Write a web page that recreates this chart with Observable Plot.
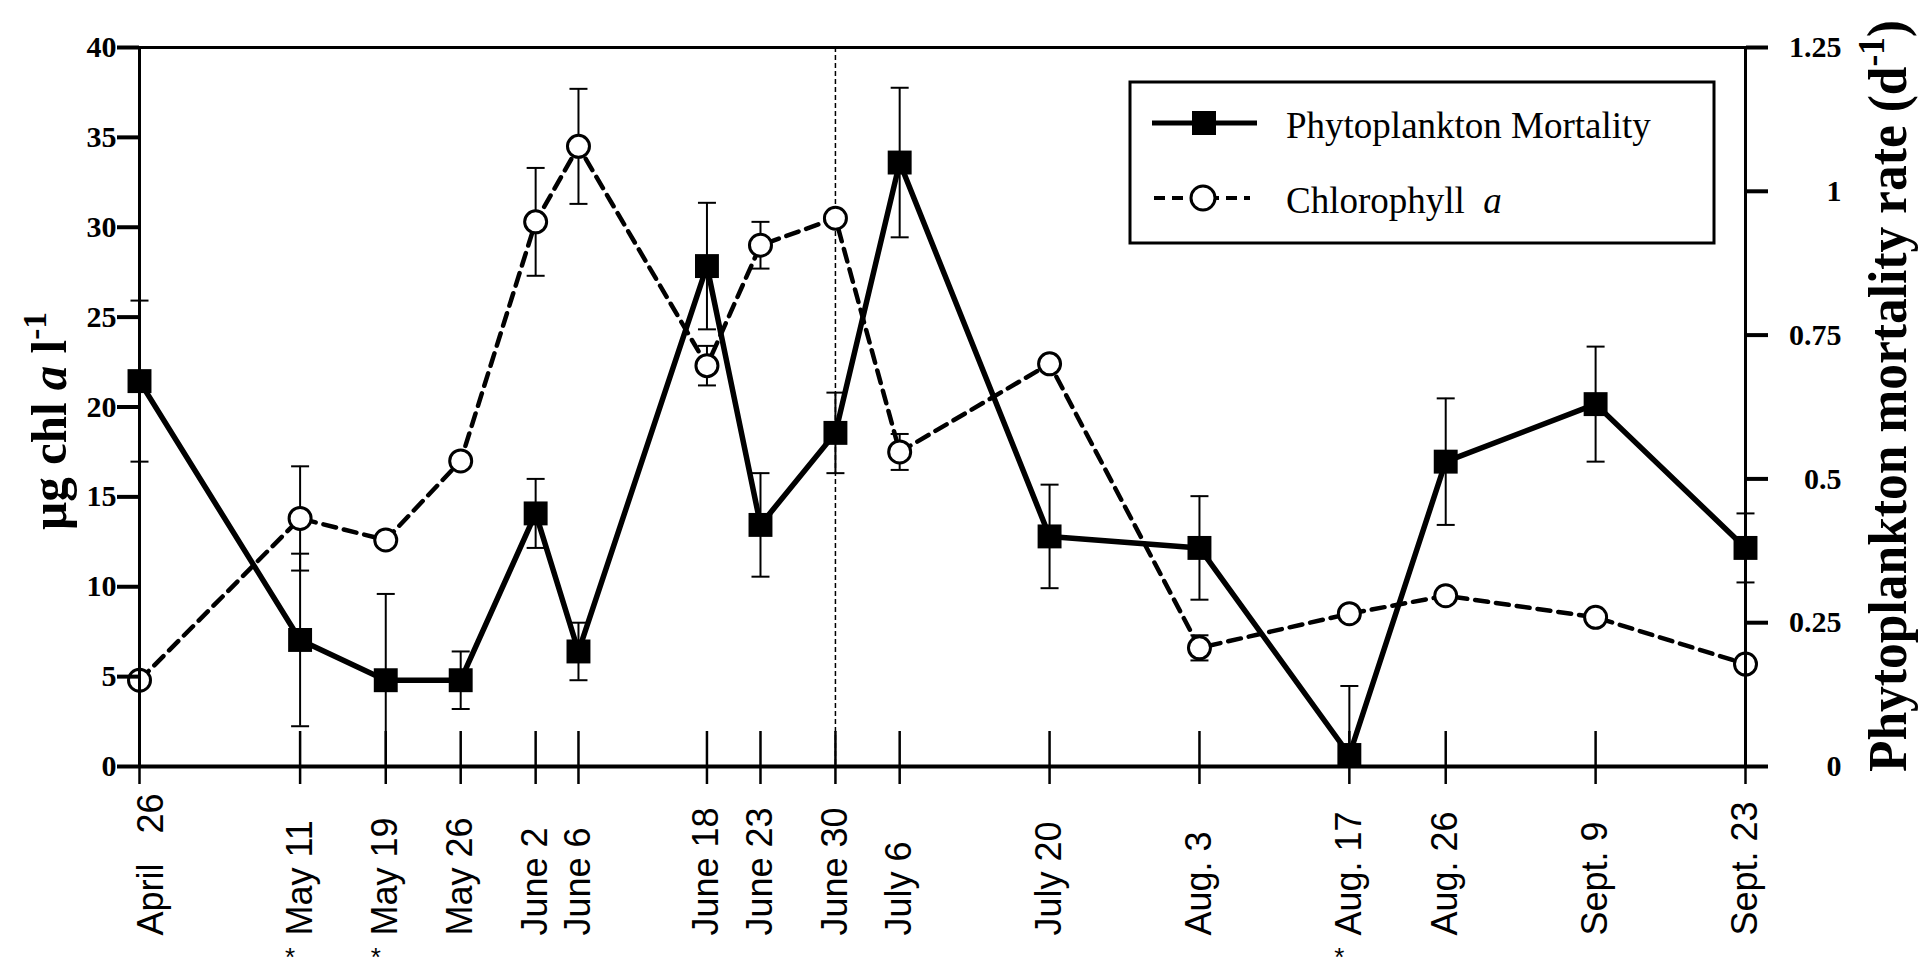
<!DOCTYPE html>
<html>
<head>
<meta charset="utf-8">
<script src="https://cdn.jsdelivr.net/npm/d3@7"></script>
<script src="https://cdn.jsdelivr.net/npm/@observablehq/plot@0.6"></script>
<style>
  html, body { margin: 0; padding: 0; background: #fff; }
  #chart { width: 1921px; height: 978px; }
</style>
</head>
<body>
<div id="chart"></div>
<script>
// Sampling dates (month-day) and the labels printed under the time axis
const sampleDates = ["04-26","05-11","05-19","05-26","06-02","06-06","06-18","06-23","06-30","07-06","07-20","08-03","08-17","08-26","09-09","09-23"];
const dateLabels = ["April\u00a0\u00a0\u00a026","May 11","May 19","May 26","June 2","June 6","June 18","June 23","June 30","July 6","July 20","Aug. 3","Aug. 17","Aug. 26","Sept. 9","Sept. 23"];
const starredDates = ["05-11","05-19","08-17"];
const dividerDate = "06-30";

// Phytoplankton mortality rate (d-1) with its error
const mortality    = [0.67,0.22,0.15,0.15,0.44,0.20,0.87,0.42,0.58,1.05,0.40,0.38,0.02,0.53,0.63,0.38];
const mortalityErr = [0.14,0.15,0.15,0.05,0.06,0.05,0.11,0.09,0.07,0.13,0.09,0.09,0.12,0.11,0.10,0.06];

// Chlorophyll a (ug/l) with its error (null where no bar is drawn)
const chlorophyll    = [4.8,13.8,12.6,17.0,30.3,34.5,22.3,29.0,30.5,17.5,22.4,6.6,8.5,9.5,8.3,5.7];
const chlorophyllErr = [null,2.9,null,null,3.0,3.2,1.1,1.3,null,1.0,null,0.7,null,0.4,null,null];

// Axis ticks
const chlTicks = [0,5,10,15,20,25,30,35,40];
const mortalityTicks = [0,0.25,0.5,0.75,1,1.25];

// Any non-leap year: only the spacing between sampling days matters
const refYear = 2001;
const parse = s => new Date(`${refYear}-${s}T00:00:00Z`);

// The mortality axis on the right shares the chlorophyll scale
const k = chlTicks[chlTicks.length - 1] / mortalityTicks[mortalityTicks.length - 1];

const rows = sampleDates.map((d, i) => ({
  date: parse(d),
  label: dateLabels[i],
  m: mortality[i] * k,
  mErr: mortalityErr[i] * k,
  c: chlorophyll[i],
  cErr: chlorophyllErr[i]
}));
const starredRows = rows.filter((r, i) => starredDates.includes(sampleDates[i]));

// Error bar extents and caps
const mBars = rows.map(r => ({date: r.date, lo: Math.max(0, r.m - r.mErr), hi: r.m + r.mErr}));
const cBars = rows.filter(r => r.cErr != null).map(r => ({date: r.date, lo: Math.max(0, r.c - r.cErr), hi: r.c + r.cErr}));
const caps = [];
rows.forEach(r => {
  caps.push({date: r.date, y: r.m + r.mErr});
  if (r.m - r.mErr >= 0) caps.push({date: r.date, y: r.m - r.mErr});
  if (r.cErr != null) {
    caps.push({date: r.date, y: r.c + r.cErr});
    if (r.c - r.cErr >= 0) caps.push({date: r.date, y: r.c - r.cErr});
  }
});

const capSymbol = {
  draw(ctx, size) {
    const w = Math.sqrt(size / Math.PI);
    ctx.moveTo(-w, 0);
    ctx.lineTo(w, 0);
  }
};

const W = 1921, H = 978;
const M = {top: 47, right: 176, bottom: 212, left: 139};
const innerH = H - M.top - M.bottom;
const serif = "'Liberation Serif', 'Times New Roman', serif";
const sans = "'Liberation Sans', Arial, sans-serif";

const labelStyle = {
  x: "date", text: "label", frameAnchor: "bottom", rotate: -90,
  textAnchor: "start", lineAnchor: "middle", dy: 169,
  fontSize: 36, fontFamily: sans, fill: "black"
};

const plot = Plot.plot({
  width: W,
  height: H,
  marginTop: M.top,
  marginRight: M.right,
  marginBottom: M.bottom,
  marginLeft: M.left,
  style: {fontFamily: serif, background: "white", color: "black", overflow: "visible"},
  x: {type: "utc", domain: [rows[0].date, rows[rows.length - 1].date], axis: null},
  y: {domain: [chlTicks[0], chlTicks[chlTicks.length - 1]], axis: null},
  marks: [
    // June 30 divider
    Plot.ruleX([parse(dividerDate)], {stroke: "black", strokeWidth: 1.5, strokeDasharray: "5,3"}),

    // error bars
    Plot.ruleX(mBars, {x: "date", y1: "lo", y2: "hi", stroke: "black", strokeWidth: 2}),
    Plot.ruleX(cBars, {x: "date", y1: "lo", y2: "hi", stroke: "black", strokeWidth: 2}),
    Plot.dot(caps, {x: "date", y: "y", symbol: capSymbol, r: 9, fill: "none", stroke: "black", strokeWidth: 2}),

    // series lines
    Plot.line(rows, {x: "date", y: "c", stroke: "black", strokeWidth: 4.5, strokeDasharray: "13,8"}),
    Plot.line(rows, {x: "date", y: "m", stroke: "black", strokeWidth: 5.5}),

    // markers
    Plot.dot(rows, {x: "date", y: "c", r: 11, fill: "white", stroke: "black", strokeWidth: 3}),
    Plot.dot(rows, {x: "date", y: "m", symbol: "square", r: 13.5, fill: "black", stroke: "none"}),

    // frame and axes
    Plot.frame({stroke: "black", strokeWidth: 3}),
    Plot.ruleY([0], {stroke: "black", strokeWidth: 4}),
    Plot.axisY(chlTicks, {
      anchor: "left", tickSize: 22, tickPadding: 1, strokeWidth: 4,
      fontSize: 30, fontWeight: "bold", fontFamily: serif, label: null
    }),
    Plot.axisY(mortalityTicks.map(m => m * k), {
      anchor: "right", tickSize: 22, tickPadding: 74, textAnchor: "end", strokeWidth: 4,
      tickFormat: d => String(+(d / k).toFixed(2)),
      fontSize: 30, fontWeight: "bold", fontFamily: serif, label: null
    }),
    Plot.tickX(rows, {x: "date", stroke: "black", strokeWidth: 2.5, insetTop: innerH - 35, insetBottom: -18}),
    // first date label sits just inside the frame edge, the rest are centred on their ticks
    Plot.text(rows.slice(0, 1), {...labelStyle, dx: 12}),
    Plot.text(rows.slice(1), labelStyle),
    Plot.text(starredRows, {
      x: "date", text: () => "*", frameAnchor: "bottom", dy: 199, dx: -10,
      fontSize: 26, fontFamily: sans, fill: "black"
    })
  ]
});

document.getElementById("chart").appendChild(plot);

const svg = d3.select(plot);

// Left axis title: µg chl a l-1, reading upward from the bottom end
const lt = svg.append("text")
  .attr("transform", `translate(66,530) rotate(-90)`)
  .attr("text-anchor", "start")
  .attr("textLength", 218).attr("lengthAdjust", "spacingAndGlyphs")
  .attr("font-family", serif).attr("font-weight", "bold").attr("font-size", 50)
  .attr("fill", "black");
lt.append("tspan").text("\u00b5g chl ");
lt.append("tspan").attr("font-style", "italic").text("a");
lt.append("tspan").text(" l");
lt.append("tspan").attr("font-size", 34).attr("dy", "-0.6em").text("-1");

// Right axis title: Phytoplankton mortality rate (d-1)
const rt = svg.append("text")
  .attr("transform", `translate(1906,772) rotate(-90)`)
  .attr("text-anchor", "start")
  .attr("textLength", 752).attr("lengthAdjust", "spacingAndGlyphs")
  .attr("font-family", serif).attr("font-weight", "bold").attr("font-size", 54)
  .attr("fill", "black");
rt.append("tspan").text("Phytoplankton mortality rate (d");
rt.append("tspan").attr("font-size", 37).attr("dy", "-0.6em").text("-1");
rt.append("tspan").attr("dy", "0.4em").text(")");

// Legend
const lg = svg.append("g").attr("font-family", serif).attr("fill", "black").attr("text-anchor", "start");
lg.append("rect").attr("x", 1130).attr("y", 82).attr("width", 584).attr("height", 161)
  .attr("fill", "white").attr("stroke", "black").attr("stroke-width", 3);
lg.append("line").attr("x1", 1152).attr("x2", 1257).attr("y1", 123).attr("y2", 123)
  .attr("stroke", "black").attr("stroke-width", 5);
lg.append("rect").attr("x", 1192).attr("y", 111).attr("width", 24).attr("height", 24).attr("fill", "black");
lg.append("text").attr("x", 1286).attr("y", 138).attr("font-size", 37).attr("text-anchor", "start")
  .text("Phytoplankton Mortality");
lg.append("line").attr("x1", 1154).attr("x2", 1250).attr("y1", 198).attr("y2", 198)
  .attr("stroke", "black").attr("stroke-width", 4).attr("stroke-dasharray", "11,7");
lg.append("circle").attr("cx", 1203).attr("cy", 198).attr("r", 12)
  .attr("fill", "white").attr("stroke", "black").attr("stroke-width", 3);
const t2 = lg.append("text").attr("x", 1286).attr("y", 213).attr("font-size", 37).attr("text-anchor", "start");
t2.append("tspan").text("Chlorophyll\u00a0\u00a0");
t2.append("tspan").attr("font-style", "italic").text("a");
</script>
</body>
</html>
